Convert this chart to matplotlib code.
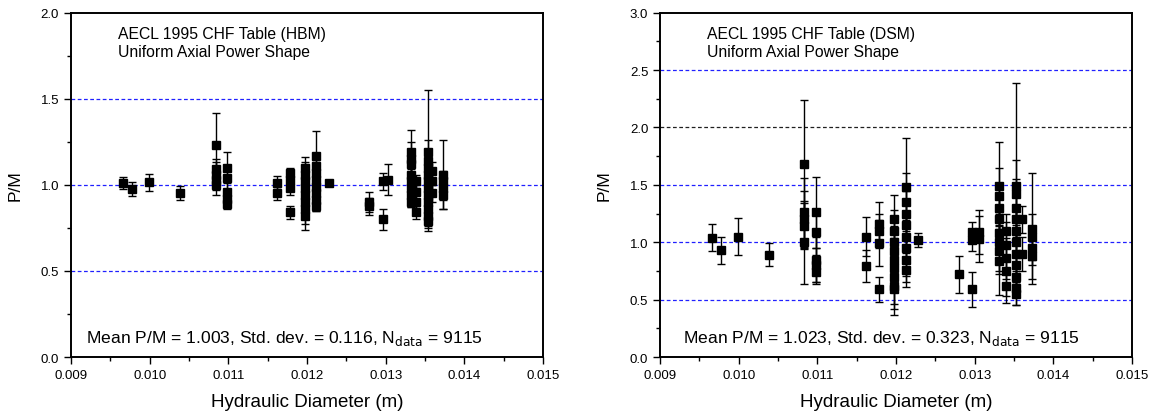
import matplotlib.pyplot as plt
from matplotlib.ticker import MultipleLocator, FormatStrFormatter

plt.rcParams['font.family'] = ['Liberation Sans', 'DejaVu Sans']

# HBM panel: hydraulic diameter (m), P/M, error half-width
hd_hbm = [0.00966, 0.00977, 0.00999, 0.01039,
          0.01084, 0.01084, 0.01084, 0.01084, 0.01084,
          0.01098, 0.01098, 0.01098, 0.01098, 0.01098,
          0.01162, 0.01162,
          0.01178, 0.01178, 0.01178, 0.01178,
          0.01197, 0.01197, 0.01197, 0.01197, 0.01197, 0.01197, 0.01197, 0.01197,
          0.01212, 0.01212, 0.01212, 0.01212, 0.01212, 0.01212, 0.01212, 0.01212,
          0.01228,
          0.01279, 0.01279,
          0.01296, 0.01296,
          0.01303,
          0.01332, 0.01332, 0.01332, 0.01332, 0.01332, 0.01332, 0.01332, 0.01332,
          0.01339, 0.01339, 0.01339, 0.01339,
          0.01354, 0.01354, 0.01354, 0.01354, 0.01354, 0.01354, 0.01354, 0.01354,
          0.01354, 0.01354, 0.01354,
          0.01359, 0.01359, 0.01359,
          0.01373, 0.01373, 0.01373, 0.01373]
pm_hbm = [1.01, 0.975, 1.015, 0.955,
          1.23, 1.09, 1.06, 1.03, 1.00,
          1.10, 1.04, 0.96, 0.92, 0.89,
          1.01, 0.95,
          1.07, 1.03, 0.98, 0.84,
          1.10, 1.06, 1.02, 0.98, 0.94, 0.90, 0.86, 0.82,
          1.17, 1.11, 1.07, 1.03, 0.99, 0.95, 0.91, 0.88,
          1.01,
          0.875, 0.90,
          1.02, 0.80,
          1.03,
          1.19, 1.15, 1.12, 1.06, 1.02, 0.98, 0.94, 0.90,
          1.02, 0.96, 0.90, 0.84,
          1.19, 1.14, 1.10, 1.06, 1.02, 0.98, 0.94, 0.90,
          0.86, 0.82, 0.79,
          1.08, 1.02, 0.95,
          1.06, 1.02, 0.98, 0.94]
err_hbm = [0.033, 0.04, 0.05, 0.04,
           0.19, 0.06, 0.07, 0.06, 0.06,
           0.09, 0.07, 0.06, 0.05, 0.03,
           0.04, 0.04,
           0.03, 0.04, 0.04, 0.04,
           0.06, 0.07, 0.08, 0.06, 0.07, 0.08, 0.09, 0.08,
           0.14, 0.05, 0.06, 0.05, 0.06, 0.05, 0.06, 0.03,
           0.015,
           0.05, 0.06,
           0.05, 0.06,
           0.09,
           0.13, 0.10, 0.09, 0.08, 0.07, 0.06, 0.07, 0.03,
           0.04, 0.04, 0.05, 0.04,
           0.36, 0.12, 0.10, 0.08, 0.07, 0.08, 0.09, 0.08,
           0.10, 0.07, 0.06,
           0.05, 0.06, 0.05,
           0.20, 0.06, 0.07, 0.08]

# DSM panel
hd_dsm = [0.00966, 0.00977, 0.00999, 0.01039,
          0.01083, 0.01083, 0.01083, 0.01083, 0.01083,
          0.01098, 0.01098, 0.01098, 0.01098, 0.01098,
          0.01162, 0.01162,
          0.01178, 0.01178, 0.01178, 0.01178,
          0.01197, 0.01197, 0.01197, 0.01197, 0.01197, 0.01197, 0.01197, 0.01197, 0.01197,
          0.01212, 0.01212, 0.01212, 0.01212, 0.01212, 0.01212, 0.01212, 0.01212,
          0.01228,
          0.01280,
          0.01297, 0.01297, 0.01297,
          0.01305, 0.01305,
          0.01331, 0.01331, 0.01331, 0.01331, 0.01331, 0.01331, 0.01331, 0.01331,
          0.01340, 0.01340, 0.01340, 0.01340, 0.01340,
          0.01353, 0.01353, 0.01353, 0.01353, 0.01353, 0.01353, 0.01353, 0.01353,
          0.01353, 0.01353, 0.01353,
          0.01360, 0.01360,
          0.01373, 0.01373, 0.01373, 0.01373]
pm_dsm = [1.04, 0.93, 1.05, 0.89,
          1.68, 1.26, 1.20, 1.14, 1.00,
          1.26, 1.09, 0.85, 0.80, 0.74,
          1.05, 0.79,
          1.16, 1.10, 0.99, 0.59,
          1.20, 1.10, 1.00, 0.92, 0.85, 0.78, 0.70, 0.62, 0.59,
          1.48, 1.35, 1.25, 1.15, 1.05, 0.95, 0.85, 0.76,
          1.02,
          0.72,
          1.09, 1.02, 0.59,
          1.09, 1.03,
          1.49, 1.40, 1.30, 1.20, 1.08, 1.00, 0.92, 0.84,
          1.10, 0.98, 0.86, 0.75, 0.62,
          1.49, 1.42, 1.30, 1.20, 1.10, 1.00, 0.90, 0.80,
          0.70, 0.60, 0.55,
          1.20, 0.90,
          1.12, 1.05, 0.95, 0.88]
err_dsm = [0.12, 0.12, 0.16, 0.10,
           0.56, 0.30, 0.25, 0.20, 0.36,
           0.31, 0.20, 0.20, 0.15, 0.10,
           0.17, 0.14,
           0.19, 0.15, 0.20, 0.11,
           0.21, 0.18, 0.20, 0.22, 0.19, 0.20, 0.24, 0.20, 0.22,
           0.43, 0.25, 0.20, 0.22, 0.18, 0.24, 0.20, 0.15,
           0.065,
           0.16,
           0.09, 0.10, 0.15,
           0.19, 0.20,
           0.38, 0.25, 0.20, 0.22, 0.18, 0.25, 0.20, 0.30,
           0.15, 0.20, 0.18, 0.22, 0.15,
           0.90, 0.30, 0.25, 0.20, 0.22, 0.30, 0.25, 0.20,
           0.18, 0.15, 0.10,
           0.12, 0.15,
           0.48, 0.20, 0.15, 0.20]

titles = ['AECL 1995 CHF Table (HBM)\nUniform Axial Power Shape',
          'AECL 1995 CHF Table (DSM)\nUniform Axial Power Shape']
stats = ['Mean P/M = 1.003, Std. dev. = 0.116, N$_{\\mathrm{data}}$ = 9115',
         'Mean P/M = 1.023, Std. dev. = 0.323, N$_{\\mathrm{data}}$ = 9115']

fig = plt.figure(figsize=(11.58, 4.14), dpi=100)
ax1 = fig.add_axes([0.0613, 0.135, 0.4076, 0.832])
ax2 = fig.add_axes([0.570, 0.135, 0.4076, 0.832])

panels = [(ax1, hd_hbm, pm_hbm, err_hbm, 2.0, [0.5, 1.0, 1.5], []),
          (ax2, hd_dsm, pm_dsm, err_dsm, 3.0, [0.5, 1.0, 1.5, 2.5], [2.0])]

for i, (ax, hd, pm, err, ymax, blue_lines, dark_lines) in enumerate(panels):
    for y in blue_lines:
        ax.axhline(y, color='#2020ff', linestyle=(0, (3, 2)), linewidth=0.9, zorder=1)
    for y in dark_lines:
        ax.axhline(y, color='#202020', linestyle=(0, (3, 2)), linewidth=0.9, zorder=1)
    ax.errorbar(hd, pm, yerr=err, fmt='s', color='black', ecolor='black',
                markersize=5.8, elinewidth=1.0, capsize=3, capthick=1.0, zorder=3)
    ax.set_xlim(0.009, 0.015)
    ax.set_ylim(0, ymax)
    ax.xaxis.set_major_locator(MultipleLocator(0.001))
    ax.xaxis.set_minor_locator(MultipleLocator(0.0005))
    ax.xaxis.set_major_formatter(FormatStrFormatter('%.3f'))
    ax.yaxis.set_major_locator(MultipleLocator(0.5))
    ax.yaxis.set_minor_locator(MultipleLocator(0.25))
    ax.yaxis.set_major_formatter(FormatStrFormatter('%.1f'))
    ax.tick_params(which='major', direction='out', length=5, width=1.0, labelsize=9.5)
    ax.tick_params(which='minor', direction='out', length=3, width=1.0)
    for s in ax.spines.values():
        s.set_linewidth(1.4)
    ax.set_xlabel('Hydraulic Diameter (m)', fontsize=13.5, labelpad=9)
    ax.set_ylabel('P/M', fontsize=12.5, labelpad=13)
    ax.text(0.10, 0.962, titles[i], transform=ax.transAxes, fontsize=11.3,
            va='top', ha='left', linespacing=1.27)
    ax.text(0.032 if i == 0 else 0.049, 0.058, stats[i], transform=ax.transAxes,
            fontsize=12.6, va='center', ha='left')

fig.savefig('out.png', dpi=100)
